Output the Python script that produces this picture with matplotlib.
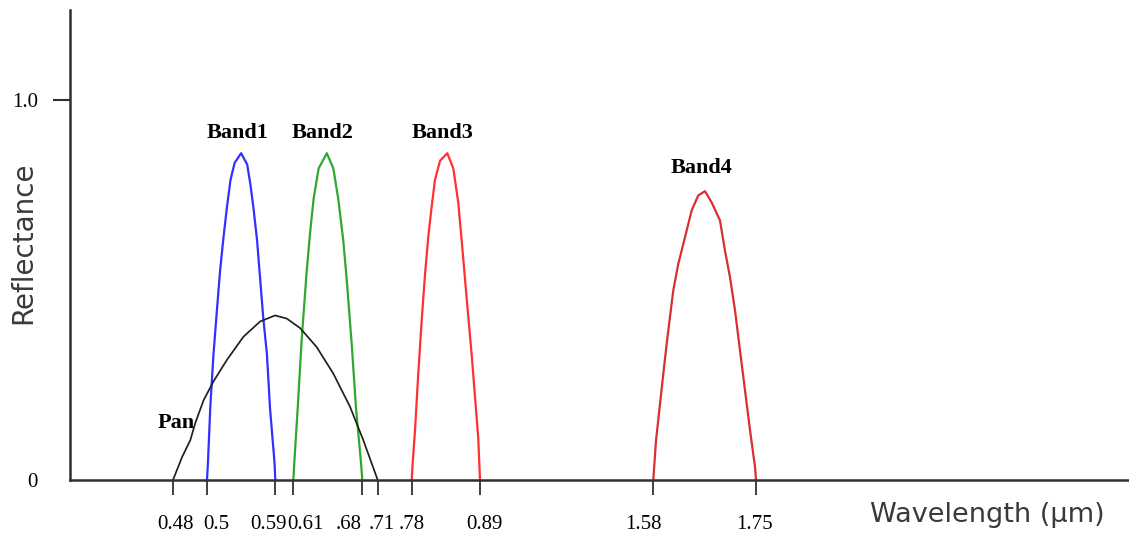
import numpy as np
import matplotlib.pyplot as plt
from matplotlib.transforms import ScaledTranslation

# Curvas (longitud de onda en µm, reflectancia)
band1_wl = [0.500, 0.5013, 0.5043, 0.5085, 0.5128, 0.5172, 0.5218, 0.5264, 0.531, 0.5365, 0.545,
            0.553, 0.557, 0.561, 0.566, 0.570, 0.574, 0.579, 0.583, 0.589, 0.590]
band1_r = [0.0, 0.048, 0.19, 0.33, 0.44, 0.55, 0.64, 0.72, 0.79, 0.835, 0.86,
           0.83, 0.78, 0.72, 0.63, 0.53, 0.43, 0.33, 0.19, 0.045, 0.0]

band2_wl = [0.610, 0.611, 0.6145, 0.6185, 0.6236, 0.627, 0.6306, 0.6357, 0.644,
            0.6506, 0.6556, 0.6607, 0.6641, 0.6692, 0.6736, 0.6787, 0.680]
band2_r = [0.0, 0.045, 0.19, 0.37, 0.55, 0.65, 0.74, 0.82, 0.86,
           0.82, 0.74, 0.63, 0.53, 0.36, 0.19, 0.045, 0.0]

band3_wl = [0.780, 0.7816, 0.7853, 0.7906, 0.7961, 0.8014, 0.8067, 0.8122, 0.8175, 0.8256,
            0.8373, 0.847, 0.855, 0.8605, 0.8658, 0.8711, 0.8766, 0.8819, 0.8872, 0.890]
band3_r = [0.0, 0.045, 0.13, 0.28, 0.42, 0.54, 0.64, 0.72, 0.79, 0.84,
           0.86, 0.82, 0.73, 0.63, 0.53, 0.43, 0.33, 0.22, 0.11, 0.0]

band4_wl = [1.580, 1.5845, 1.5911, 1.5966, 1.6022, 1.6076, 1.6131, 1.6214, 1.6325, 1.6436,
            1.6545, 1.6656, 1.6767, 1.6904, 1.6986, 1.7069, 1.7152, 1.7235, 1.7318, 1.7401,
            1.7484, 1.750]
band4_r = [0.0, 0.104, 0.20, 0.28, 0.359, 0.429, 0.499, 0.569, 0.639, 0.71,
           0.749, 0.76, 0.73, 0.683, 0.604, 0.534, 0.447, 0.341, 0.236, 0.131,
           0.034, 0.0]

pan_wl = [0.480, 0.4853, 0.4902, 0.4931, 0.498, 0.5087, 0.5262, 0.548, 0.5699, 0.5896,
          0.6026, 0.6168, 0.6337, 0.6506, 0.6675, 0.6819, 0.710]
pan_r = [0.0, 0.06, 0.105, 0.15, 0.21, 0.26, 0.316, 0.377, 0.417, 0.433,
         0.425, 0.40, 0.35, 0.28, 0.193, 0.105, 0.0]

tick_wl = [0.48, 0.5, 0.59, 0.61, 0.68, 0.71, 0.78, 0.89, 1.58, 1.75]
tick_labels = ['0.48', '0.5', '0.59', '0.61', '.68', '.71', '.78', '0.89', '1.58', '1.75']

band_names = ['Band1', 'Band2', 'Band3', 'Band4']
band_label_wl = [0.540, 0.640, 0.829, 1.659]
band_label_r = [0.913, 0.913, 0.913, 0.821]

# Eje x dibujado a mano: no es lineal, se interpola entre marcas
anchor_wl = [0.40, 0.48, 0.5, 0.59, 0.61, 0.68, 0.71, 0.78, 0.89, 1.58, 1.75, 2.5]
anchor_px = [70, 173, 207, 275.3, 293.3, 362.3, 377.7, 411.7, 480, 653.3, 756, 1129]


def fwd(x):
    return np.interp(x, anchor_wl, anchor_px)


def inv(p):
    return np.interp(p, anchor_px, anchor_wl)


fig = plt.figure(figsize=(11.29, 5.33), dpi=100)
ax = fig.add_axes([70 / 1129, 53 / 533, 1059 / 1129, 470 / 533])
ax.set_xscale('function', functions=(fwd, inv))
ax.set_xlim(0.40, 2.5)
ax.set_ylim(0, 470 / 380)

lw = 1.6
ax.plot(band1_wl, band1_r, color='#3030ff', lw=lw)
ax.plot(band2_wl, band2_r, color='#30a830', lw=lw)
ax.plot(band3_wl, band3_r, color='#ff3030', lw=lw)
ax.plot(band4_wl, band4_r, color='#d83030', lw=lw)
ax.plot(pan_wl, pan_r, color='#202020', lw=1.25)

serif = 'Liberation Serif'
for name, x, y in zip(band_names, band_label_wl, band_label_r):
    ax.text(x, y, name, ha='center', va='center', fontsize=16,
            fontweight='bold', family=serif)
ax.text(0.4925, 0.15, 'Pan', ha='right', va='center', fontsize=16,
        fontweight='bold', family=serif)

for side in ['top', 'right']:
    ax.spines[side].set_visible(False)
for side in ['left', 'bottom']:
    ax.spines[side].set_color('#303030')
    ax.spines[side].set_linewidth(1.8)

ax.set_xticks(tick_wl)
ax.set_xticklabels(tick_labels, family=serif, fontsize=15)
ax.minorticks_off()
ax.tick_params(axis='x', length=11, width=1.3, pad=14, color='#303030')

ax.set_yticks([0, 1.0])
ax.set_yticklabels(['0', '1.0'], family=serif, fontsize=15)
ax.tick_params(axis='y', length=12, width=1.5, pad=11, color='#303030')
ax.yaxis.get_major_ticks()[0].tick1line.set_visible(False)

# las etiquetas del eje x no están centradas en sus marcas en el original
shifts = [2, 9, -7, 12, -14, 4, 0, 4, -10, -2]
for lab, dx in zip(ax.get_xticklabels(), shifts):
    lab.set_transform(lab.get_transform() + ScaledTranslation(dx / 100, 0, fig.dpi_scale_trans))

fig.text(23 / 1129, 1 - 243 / 533, 'Reflectance', rotation=90, ha='center', va='center',
         fontsize=20, color='#3a3a3a', family='DejaVu Sans')
fig.text(987 / 1129, 1 - 515 / 533, 'Wavelength (µm)', ha='center', va='center',
         fontsize=19.5, color='#3a3a3a', family='DejaVu Sans')

fig.savefig('out.png', dpi=100)
